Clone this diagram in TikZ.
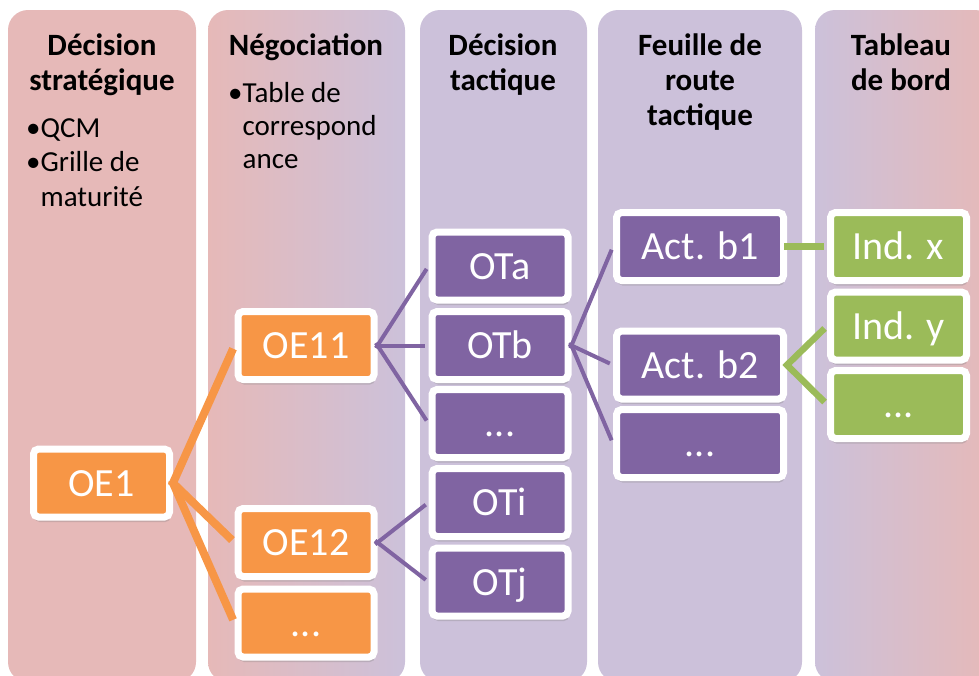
\documentclass[tikz,border=0pt]{standalone}
\usepackage{fontspec}
\setmainfont{Carlito}
\usepackage{tikz}
\usetikzlibrary{shadows}

\definecolor{oeorange}{HTML}{F79646}
\definecolor{otpurple}{HTML}{8064A2}
\definecolor{indgreen}{HTML}{9BBB59}
\definecolor{colpink}{HTML}{E6B9B8}
\definecolor{collav}{HTML}{CCC1DA}

\begin{document}
\begin{tikzpicture}[x=1pt,y=-1pt,
			box node/.style={
				rectangle, draw=white, line width=7pt, rounded corners=5pt,
				text=white, font=\fontsize{40}{44}\selectfont,
				text height=26pt, text depth=0pt, inner sep=0pt,
				minimum width=136pt, minimum height=68pt,
				drop shadow={opacity=.3, shadow xshift=1pt, shadow yshift=-5pt}},
			orange node/.style={box node, fill=oeorange},
			purple node/.style={box node, fill=otpurple},
			green node/.style={box node, fill=indgreen},
			head node/.style={
				align=center, anchor=north, inner sep=0pt,
				font=\bfseries\fontsize{31}{35}\selectfont},
			list node/.style={
				align=left, anchor=north west, inner sep=0pt,
				font=\fontsize{29}{34.5}\selectfont}
			]
			\useasboundingbox (0,0) rectangle (979,675);
			\clip (0,0) rectangle (979,675);
			\fill[colpink, rounded corners=20pt] (8,10) rectangle (196,682);
			\path[left color=colpink, right color=collav, rounded corners=20pt] (208,10) rectangle (405,682);
			\fill[collav, rounded corners=20pt] (420,10) rectangle (587,682);
			\fill[collav, rounded corners=20pt] (598,10) rectangle (802,682);
			\path[left color=collav, right color=colpink, rounded corners=20pt] (815,10) rectangle (995,682);
			
			\node[head node] (17) at (102,34) {Décision\\stratégique};
			\node[head node] (18) at (306,34) {Négociation};
			\node[head node] (19) at (503,34) {Décision\\tactique};
			\node[head node] (20) at (700,34) {Feuille de\\route\\tactique};
			\node[head node] (21) at (901,34) {Tableau\\de bord};
			\node[list node] (22) at (26,118) {•QCM\\•Grille de\\\phantom{•}maturité};
			\node[list node, font=\fontsize{29}{33}\selectfont] (23) at (228,82) {•Table de\\\phantom{•}correspond\\\phantom{•}ance};
			
			\node[orange node] (1) at (101.5,483) {OE1};
			\node[orange node] (2) at (306,345.5) {OE11};
			\node[orange node] (3) at (306,542.5) {OE12};
			\node[orange node] (4) at (306,623) {...};
			\node[purple node] (5) at (500,266) {OTa};
			\node[purple node] (6) at (500,345.5) {OTb};
			\node[purple node] (7) at (500,423.5) {...};
			\node[purple node] (8) at (500,502.5) {OTi};
			\node[purple node] (9) at (500,582) {OTj};
			\node[purple node,minimum width=167pt] (10) at (700,246.5) {Act. b1};
			\node[purple node,minimum width=167pt] (11) at (700,365) {Act. b2};
			\node[purple node,minimum width=167pt] (12) at (700,443.5) {...};
			\node[green node] (13) at (898.5,246.5) {Ind. x};
			\node[green node] (14) at (898.5,326) {Ind. y};
			\node[green node] (15) at (898.5,404.5) {...};
			
			\path[shorten >=3.5pt, shorten <=-3pt]
			(1.east) edge[oeorange, line width=8pt] (2.west)
			(1.east) edge[oeorange, line width=8pt] (3.west)
			(1.east) edge[oeorange, line width=8pt] (4.west)
			(2.east) edge[otpurple, line width=4pt] (5.west)
			(2.east) edge[otpurple, line width=4pt] (6.west)
			(2.east) edge[otpurple, line width=4pt] (7.west)
			(3.east) edge[otpurple, line width=4pt] (8.west)
			(3.east) edge[otpurple, line width=4pt] (9.west)
			(6.east) edge[otpurple, line width=4pt] (10.west)
			(6.east) edge[otpurple, line width=4pt] (11.west)
			(6.east) edge[otpurple, line width=4pt] (12.west)
			(10.east) edge[indgreen, line width=6.5pt] (13.west)
			(11.east) edge[indgreen, line width=6.5pt] (14.west)
			(11.east) edge[indgreen, line width=6.5pt] (15.west);
		\end{tikzpicture}
\end{document}
